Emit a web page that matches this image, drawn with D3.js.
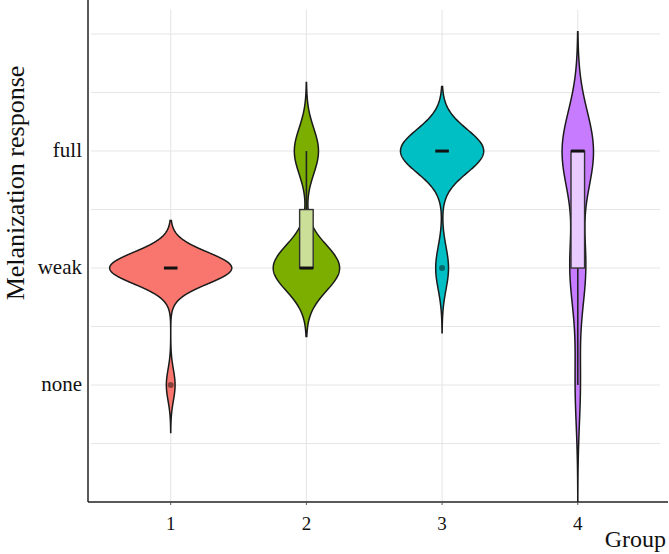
<!DOCTYPE html>
<html>
<head>
<meta charset="utf-8">
<script src="https://cdn.jsdelivr.net/npm/d3@7"></script>
<style>
  html, body { margin: 0; padding: 0; background: #fff; }
  svg { display: block; }
  text { font-family: "Liberation Serif", "Times New Roman", serif; fill: #111; }
</style>
</head>
<body>
<svg id="chart" width="669" height="554"></svg>
<script>
// ---- data (counts of responses per group) ----
const groups = ["1", "2", "3", "4"];
const levelValues = [1, 2, 3];
const levelLabels = ["none", "weak", "full"];
const countNone = [1, 0, 0, 2];
const countWeak = [14, 11, 2, 6];
const countFull = [0, 4, 13, 12];
const groupColors = ["#F8766D", "#7CAE00", "#00BFC4", "#C77CFF"];
const yGridValues = [0.5, 1, 1.5, 2, 2.5, 3, 3.5, 4];

// ---- layout ----
const svg = d3.select("#chart");
const W = 669, H = 554;
const axisX = 88, axisY = 502;

const x = d3.scalePoint().domain(groups).range([89.3, 659.2]).padding(0.6);
const step = x.step();
const y = d3.scaleLinear().domain([0, 4.21]).range([502, 9.5]);

// expand counts to observations
const samples = groups.map((g, i) => {
  const arr = [];
  [countNone[i], countWeak[i], countFull[i]].forEach((c, k) => {
    for (let j = 0; j < c; j++) arr.push(levelValues[k]);
  });
  return arr.sort(d3.ascending);
});

function nrd0(v) {
  const n = v.length;
  const sd = d3.deviation(v);
  const iqr = d3.quantileSorted(v, 0.75) - d3.quantileSorted(v, 0.25);
  let lo = Math.min(sd, iqr / 1.34);
  if (!(lo > 0)) lo = sd || Math.abs(v[0]) || 1;
  return 0.9 * lo * Math.pow(n, -0.2);
}

const dens = samples.map(v => {
  const bw = nrd0(v);
  const lo = d3.min(v) - 3 * bw, hi = d3.max(v) + 3 * bw;
  const N = 512;
  return d3.range(N).map(k => {
    const t = lo + (hi - lo) * k / (N - 1);
    let s = 0;
    for (const xi of v) { const u = (t - xi) / bw; s += Math.exp(-0.5 * u * u); }
    return { t, d: s / (v.length * bw * Math.sqrt(2 * Math.PI)) };
  });
});
const maxD = d3.max(dens, p => d3.max(p, e => e.d));
const halfW = 0.45 * step;

// ---- grid ----
const grid = svg.append("g");
grid.selectAll("line.h").data(yGridValues).join("line")
  .attr("x1", 91).attr("x2", 660)
  .attr("y1", d => y(d)).attr("y2", d => y(d))
  .attr("stroke", "#e6e6e6").attr("stroke-width", 1.1);
grid.selectAll("line.v").data(groups).join("line")
  .attr("x1", d => x(d)).attr("x2", d => x(d))
  .attr("y1", y(4.21)).attr("y2", axisY)
  .attr("stroke", "#e6e6e6").attr("stroke-width", 1.1);

// ---- violins ----
svg.append("clipPath").attr("id", "panel")
  .append("rect").attr("x", axisX).attr("y", 0).attr("width", W - axisX).attr("height", axisY);

const vg = svg.append("g").attr("clip-path", "url(#panel)");
groups.forEach((g, i) => {
  const cx = x(g);
  const area = d3.area()
    .y(p => y(p.t))
    .x0(p => cx - p.d / maxD * halfW)
    .x1(p => cx + p.d / maxD * halfW)
    .curve(d3.curveLinear);
  vg.append("path").datum(dens[i]).attr("d", area)
    .attr("fill", groupColors[i]).attr("stroke", "#1a1a1a").attr("stroke-width", 1.5);
});

// ---- boxplots ----
const bw2 = 0.1 * step;
groups.forEach((g, i) => {
  const v = samples[i];
  const cx = x(g);
  const q1 = d3.quantileSorted(v, 0.25), med = d3.quantileSorted(v, 0.5), q3 = d3.quantileSorted(v, 0.75);
  const iqr = q3 - q1;
  const inside = v.filter(d => d >= q1 - 1.5 * iqr && d <= q3 + 1.5 * iqr);
  const wLo = d3.min(inside), wHi = d3.max(inside);
  const outs = v.filter(d => d < q1 - 1.5 * iqr || d > q3 + 1.5 * iqr);
  const boxFill = d3.interpolateRgb(groupColors[i], "#ffffff")(0.6);
  const bx = svg.append("g");
  if (wHi > q3) bx.append("line").attr("x1", cx).attr("x2", cx).attr("y1", y(q3)).attr("y2", y(wHi))
    .attr("stroke", "#222").attr("stroke-width", 1.6);
  if (wLo < q1) bx.append("line").attr("x1", cx).attr("x2", cx).attr("y1", y(q1)).attr("y2", y(wLo))
    .attr("stroke", "#222").attr("stroke-width", 1.6);
  if (iqr > 0) {
    bx.append("rect").attr("x", cx - bw2 / 2).attr("width", bw2)
      .attr("y", y(q3)).attr("height", y(q1) - y(q3))
      .attr("fill", boxFill).attr("stroke", "#333").attr("stroke-width", 1.4);
  }
  bx.append("line").attr("x1", cx - bw2 / 2).attr("x2", cx + bw2 / 2)
    .attr("y1", y(med)).attr("y2", y(med))
    .attr("stroke", "#111").attr("stroke-width", 3);
  const uniqOuts = Array.from(new Set(outs));
  bx.selectAll("circle").data(uniqOuts).join("circle")
    .attr("cx", cx).attr("cy", d => y(d)).attr("r", 3)
    .attr("fill", "#000").attr("fill-opacity", 0.45);
});

// ---- axes ----
svg.append("line").attr("x1", axisX).attr("x2", axisX).attr("y1", 0).attr("y2", axisY)
  .attr("stroke", "#222").attr("stroke-width", 1.5);
svg.append("line").attr("x1", axisX).attr("x2", 668).attr("y1", axisY).attr("y2", axisY)
  .attr("stroke", "#222").attr("stroke-width", 1.5);

svg.selectAll("line.xt").data(groups).join("line")
  .attr("x1", d => x(d)).attr("x2", d => x(d)).attr("y1", axisY).attr("y2", axisY + 3)
  .attr("stroke", "#555").attr("stroke-width", 1);

svg.selectAll("text.xl").data(groups).join("text")
  .attr("x", d => x(d)).attr("y", 529.5).attr("text-anchor", "middle")
  .style("font-size", "19px").text(d => d);

svg.selectAll("text.yl").data(levelValues).join("text")
  .attr("x", 82).attr("y", d => y(d) + 6).attr("text-anchor", "end")
  .style("font-size", "21px").text((d, i) => levelLabels[i]);

svg.append("text").attr("x", 666).attr("y", 547).attr("text-anchor", "end")
  .style("font-size", "24px").text("Group");

svg.append("text").attr("transform", "translate(23.5,183) rotate(-90)")
  .attr("text-anchor", "middle").style("font-size", "26px").text("Melanization response");
</script>
</body>
</html>
